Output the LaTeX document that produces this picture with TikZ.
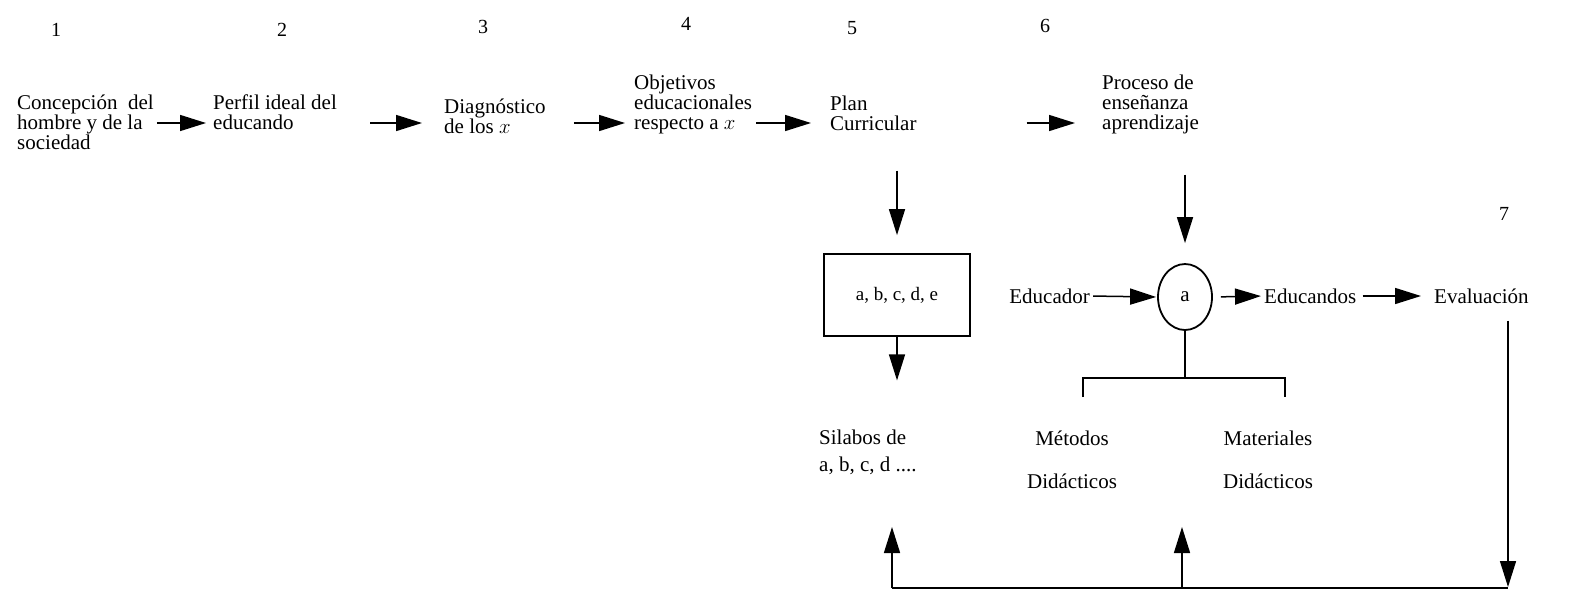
\documentclass[tikz,border=0pt]{standalone}
\usepackage{fontspec}
\setmainfont{Liberation Serif}
\usetikzlibrary{arrows.meta,shapes.geometric}
\tikzset{
  txt/.style={font=\fontsize{21}{20}\selectfont, align=left, inner sep=0pt, anchor=west},
  num/.style={font=\fontsize{20}{20}\selectfont, inner sep=0pt},
  arr/.style={line width=1.5pt, -{Triangle[length=26pt,width=16pt]}},
  ln/.style={line width=1.5pt},
  boxst/.style={draw, line width=1.8pt, minimum width=146pt, minimum height=82pt, inner sep=0pt, font=\fontsize{19}{20}\selectfont},
  ellst/.style={draw, ellipse, line width=1.8pt, minimum width=54pt, minimum height=66pt, inner sep=0pt, font=\fontsize{21}{20}\selectfont},
}
\begin{document}
\begin{tikzpicture}[x=1pt,y=-1pt]
\useasboundingbox (0,0) rectangle (1576,592);
% numbers
\node[num] (num1) at (56,30) {1};
\node[num] (num2) at (282,30) {2};
\node[num] (num3) at (483,27) {3};
\node[num] (num4) at (686,24) {4};
\node[num] (num5) at (852,28) {5};
\node[num] (num6) at (1045,26) {6};
\node[num] (num7) at (1504,214) {7};
% top row
\coordinate (row) at (0,123);
\node[txt] (n1) at (17,122) {Concepción \ del\\hombre y de la\\sociedad};
\node[txt] (n2) at (213,112) {Perfil ideal del\\educando};
\node[txt, font=\fontsize{21}{16}\selectfont] (n3) at (444,116) {Diagnóstico\\de los $x$};
\node[txt] (n4) at (634,104) {Objetivos\\educacionales\\respecto a $x$};
\node[txt] (n5) at (830,113) {Plan\\Curricular};
\node[txt] (n6) at (1102,104) {Proceso de\\enseñanza\\aprendizaje};
\draw[arr, shorten <=3pt, shorten >=7pt] (n1.east |- row) -- (n2.west |- row);
\draw[arr, shorten <=33pt, shorten >=22pt] (n2.east |- row) -- (n3.west |- row);
\draw[arr, shorten <=28pt, shorten >=9pt] (n3.east |- row) -- (n4.west |- row);
\draw[arr, shorten <=4pt, shorten >=19pt] (n4.east |- row) -- (n5.west |- row);
\draw[arr, shorten <=110pt, shorten >=27pt] (n5.east |- row) -- (n6.west |- row);
% middle
\node[boxst] (box) at (897,295) {a, b, c, d, e};
\node[ellst] (ell) at (1185,297) {a};
\node[txt, anchor=east] (educador) at (1090,296) {Educador};
\node[txt] (educandos) at (1264,296) {Educandos};
\node[txt] (evaluacion) at (1434,296) {Evaluación};
\draw[arr, shorten <=40pt, shorten >=18pt] (n5.south -| box.north) -- (box.north);
\draw[arr, shorten <=41pt, shorten >=20pt] (n6.south -| ell.north) -- (ell.north);
\draw[arr, shorten <=3pt, shorten >=1pt] (educador.east) -- (ell.west);
\draw[arr, shorten <=8pt, shorten >=3pt] (ell.east) -- (educandos.west);
\draw[arr, shorten <=6pt, shorten >=13pt] (educandos.east) -- (evaluacion.west);
% bottom texts
\node[txt, font=\fontsize{21}{27}\selectfont] (silabos) at (819,452) {Silabos de\\a, b, c, d ....};
\node[num, font=\fontsize{21}{43}\selectfont, align=center] (metodos) at (1072,460) {Métodos\\Didácticos};
\node[num, font=\fontsize{21}{43}\selectfont, align=center] (materiales) at (1268,460) {Materiales\\Didácticos};
\draw[arr, shorten >=49pt] (box.south) -- (box.south |- silabos.north);
% bracket
\coordinate (stem) at (1185,378);
\coordinate (bl) at (1083,378);
\coordinate (br) at (1285,378);
\draw[ln] (ell.south) -- (stem);
\draw[ln] ([yshift=-19pt]bl) -- (bl) -- (br) -- ([yshift=-19pt]br);
% feedback
\coordinate (cl) at (892,588);
\coordinate (cm) at (1182,588);
\coordinate (cr) at (1508,588);
\coordinate (up1) at (892,527);
\coordinate (up2) at (1182,527);
\draw[arr, shorten <=17pt, shorten >=1pt] (cr |- evaluacion.south) -- (cr);
\draw[ln] (cl) -- (cr);
\draw[arr] (cl) -- (up1);
\draw[arr] (cm) -- (up2);
\end{tikzpicture}
\end{document}
